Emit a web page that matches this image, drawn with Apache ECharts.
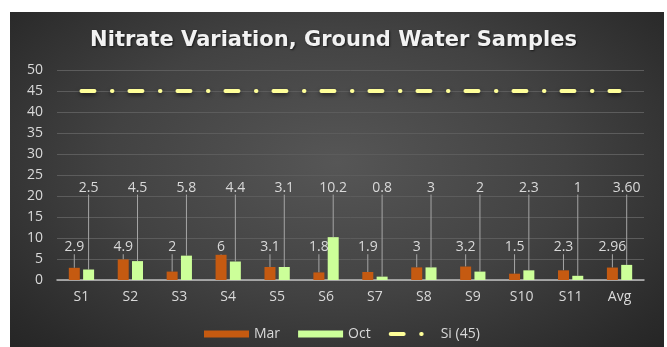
<!DOCTYPE html>
<html><head><meta charset="utf-8">
<script src="https://cdn.jsdelivr.net/npm/echarts@6/dist/echarts.min.js"></script>
<style>
html,body{margin:0;padding:0;background:#fff;}
#wrap{position:relative;width:667px;height:347px;overflow:hidden;background:#fff;}
#bg{position:absolute;left:10px;top:12px;width:654px;height:335px;
 background:radial-gradient(ellipse 70% 80% at 50% 45%, #565656 0%, #424242 50%, #2a2a2a 90%, #252525 100%);}
#chart{position:absolute;left:0;top:0;width:667px;height:347px;}
</style></head>
<body><div id="wrap"><div id="bg"></div><div id="chart"></div></div>
<script>
const categories = ['S1','S2','S3','S4','S5','S6','S7','S8','S9','S10','S11','Avg'];
const marValues = [2.9, 4.9, 2, 6, 3.1, 1.8, 1.9, 3, 3.2, 1.5, 2.3, 2.96];
const octValues = [2.5, 4.5, 5.8, 4.4, 3.1, 10.2, 0.8, 3, 2, 2.3, 1, 3.60];
const marLabels = ['2.9','4.9','2','6','3.1','1.8','1.9','3','3.2','1.5','2.3','2.96'];
const octLabels = ['2.5','4.5','5.8','4.4','3.1','10.2','0.8','3','2','2.3','1','3.60'];
const siValues = [45, 45, 45, 45, 45, 45, 45, 45, 45, 45, 45, 45];
const seriesNames = ['Mar', 'Oct', 'Si (45)'];
const yMin = 0, yMax = 50, yStep = 5;
const marLabelLevel = 7.8;
const octLabelLevel = 22;

const FONT = '"Open Sans", sans-serif';
const SI_DASH = [13, 17.5, 0.5, 17];

function anchorLayout(values, level) {
  return function (p) {
    const v = values[p.dataIndex];
    const r = p.rect;
    const base = r.y + r.height;
    const ppu = v ? r.height / v : 0;
    return { x: r.x + r.width / 2, y: base - level * ppu, align: 'center', verticalAlign: 'middle' };
  };
}

const chart = echarts.init(document.getElementById('chart'), null, { renderer: 'canvas' });
chart.setOption({
  backgroundColor: 'transparent',
  animation: false,
  title: {
    text: 'Nitrate Variation, Ground Water Samples',
    left: 'center', top: 25,
    textStyle: {
      color: '#f2f2f2', fontSize: 21, fontWeight: 'bold', fontFamily: '"DejaVu Sans", sans-serif',
      textShadowColor: 'rgba(0,0,0,0.6)', textShadowBlur: 2, textShadowOffsetX: 1, textShadowOffsetY: 1
    }
  },
  grid: { left: 57, right: 23, top: 70, bottom: 67 },
  legend: {
    left: 199, top: 322,
    itemWidth: 45, itemHeight: 7, itemGap: 18,
    textStyle: { color: '#d9d9d9', fontSize: 14, fontFamily: FONT },
    data: [
      { name: seriesNames[0], icon: 'rect' },
      { name: seriesNames[1], icon: 'rect' },
      {
        name: seriesNames[2],
        itemStyle: { color: 'rgba(0,0,0,0)', borderColor: 'rgba(0,0,0,0)', borderWidth: 0 },
        lineStyle: { width: 4, color: '#FFFF99', type: SI_DASH, cap: 'round' }
      }
    ]
  },
  xAxis: {
    type: 'category', data: categories,
    axisLine: { lineStyle: { color: '#bfbfbf', width: 1.5 } },
    axisTick: { show: false },
    axisLabel: { color: '#d9d9d9', fontSize: 14, fontFamily: FONT, margin: 10 }
  },
  yAxis: {
    type: 'value', min: yMin, max: yMax, interval: yStep,
    axisLine: { show: false }, axisTick: { show: false },
    splitLine: { lineStyle: { color: '#5c5c5c', width: 1 } },
    axisLabel: { color: '#d9d9d9', fontSize: 14, fontFamily: FONT, margin: 14 }
  },
  series: [
    {
      name: seriesNames[0], type: 'bar', data: marValues,
      barWidth: 11, barGap: '30%',
      itemStyle: { color: '#C55A11' },
      label: {
        show: true, position: 'top', color: '#d9d9d9', fontSize: 14, fontFamily: FONT,
        formatter: p => marLabels[p.dataIndex]
      },
      labelLayout: anchorLayout(marValues, marLabelLevel),
      labelLine: { show: true, lineStyle: { color: '#a6a6a6', width: 1 } }
    },
    {
      name: seriesNames[1], type: 'bar', data: octValues,
      barWidth: 11, barGap: '30%',
      itemStyle: { color: '#CCFF99' },
      label: {
        show: true, position: 'top', color: '#d9d9d9', fontSize: 14, fontFamily: FONT,
        formatter: p => octLabels[p.dataIndex]
      },
      labelLayout: anchorLayout(octValues, octLabelLevel),
      labelLine: { show: true, lineStyle: { color: '#a6a6a6', width: 1 } }
    },
    {
      name: seriesNames[2], type: 'line', data: siValues,
      symbol: 'none', z: 5,
      itemStyle: { color: '#FFFF99' },
      lineStyle: {
        color: '#FFFF99', width: 4, type: SI_DASH, cap: 'round',
        shadowColor: 'rgba(0,0,0,0.55)', shadowBlur: 4, shadowOffsetY: 2
      }
    }
  ]
});
</script>
</body></html>
